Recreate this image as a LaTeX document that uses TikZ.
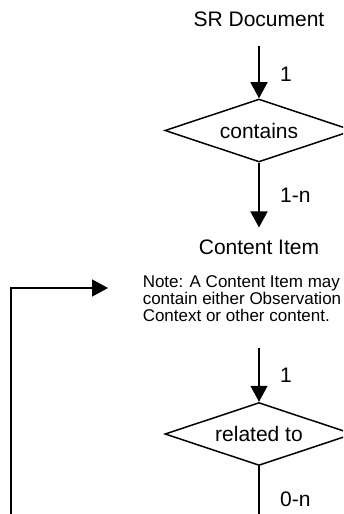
\documentclass[tikz,border=0pt]{standalone}
\usepackage{fontspec}
\setmainfont{Liberation Sans}
\usetikzlibrary{arrows.meta,positioning,shapes.geometric}

\begin{document}
\begin{tikzpicture}[%
>={Triangle[length=16pt,width=17pt]},
x=1pt,
y=-1pt,
line width=1.5pt,
node distance=110pt,
on grid,
auto,
entity/.style={font=\fontsize{21}{25}\selectfont},
decision/.style={diamond,draw,aspect=3,inner sep=1pt,minimum width=188pt,minimum height=63pt,font=\fontsize{21}{25}\selectfont},
card/.style={font=\fontsize{21}{25}\selectfont,xshift=17pt}
]

\clip (0,0) rectangle (343,514);

\node[entity] (doc) at (259,19) {SR Document};
\node[decision] (contains) [below=111.5pt of doc] {contains};
\node[entity] (item) [below=116.5pt of contains] {Content Item};
\node[anchor=north west,inner sep=0pt,align=left,font=\fontsize{17}{16.7}\selectfont] (note) at (142,275) {Note: A Content Item may\\contain either Observation\\Context or other content.};
\node[decision] (rel) [below=187pt of item] {related to};

\coordinate (relin) at (259,348);
\coordinate (relout) at (259,520);
\coordinate (loopa) at (11,520);
\coordinate (loopb) at (11,288);
\coordinate (notein) at (108,288);

\path[->] (doc) edge[shorten <=15pt] node[card,pos=0.65] {1} (contains);
\path[->] (contains) edge[shorten >=8pt] node[card,pos=0.45] {1-n} (item);
\path[->] (relin) edge node[card] {1} (rel);
\path (rel) edge node[card,pos=0.62] {0-n} (relout);

\draw[->] (loopa) -- (loopb) -- (notein);

\end{tikzpicture}
\end{document}
